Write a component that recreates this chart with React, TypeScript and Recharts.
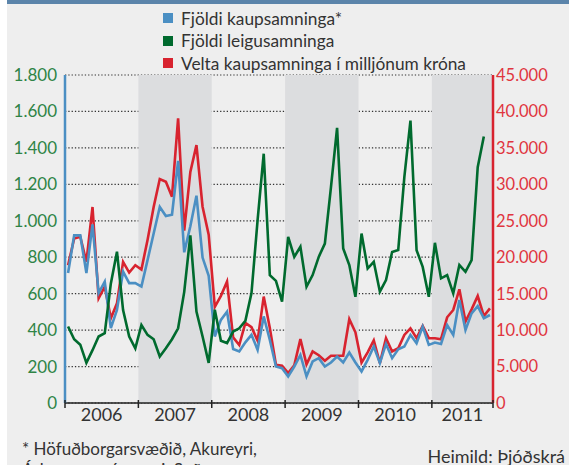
import { LineChart, Line, XAxis, YAxis, CartesianGrid, ReferenceArea } from 'recharts';

// monthly values, Jan 2006 - Oct 2011
const kaupsamningar = [
  713, 920, 920, 713, 980, 603, 666, 411, 511, 721, 658, 658,
  639, 784, 930, 1076, 1026, 1033, 1329, 827, 970, 1138, 798, 698,
  365, 456, 501, 296, 283, 333, 374, 292, 475, 346, 200, 191,
  146, 200, 264, 146, 228, 246, 200, 222, 255, 222, 277, 222,
  173, 237, 310, 219, 324, 246, 295, 310, 374, 328, 419, 319,
  332, 324, 428, 374, 565, 401, 492, 532, 465, 483,
];

const leigusamningar = [
  420, 350, 320, 220, 290, 365, 383, 656, 830, 510, 365, 300,
  428, 374, 350, 255, 300, 350, 410, 610, 920, 502, 365, 220,
  512, 342, 329, 392, 410, 451, 603, 1003, 1368, 702, 670, 556,
  911, 802, 857, 638, 702, 802, 875, 1185, 1510, 848, 757, 583,
  930, 738, 775, 611, 675, 829, 839, 1240, 1550, 839, 747, 583,
  879, 684, 702, 602, 757, 720, 784, 1294, 1462, null,
];

const velta = [
  18900, 22560, 22800, 19370, 26890, 14360, 15950, 11620, 13670, 19370, 17900, 18900,
  18320, 22370, 26900, 30730, 30360, 28300, 39040, 23640, 31700, 35380, 26930, 23100,
  13200, 14700, 16650, 9000, 7950, 11000, 10400, 8550, 14600, 10300, 5240, 5130,
  4100, 5180, 8760, 5300, 7070, 6550, 5800, 6480, 6480, 6480, 11500, 9700,
  5520, 6950, 8600, 5470, 8890, 7070, 7520, 9340, 10250, 8890, 10570, 8890,
  8890, 8750, 11760, 12760, 15590, 11170, 12850, 14680, 11940, 12990,
];

const years = ['2006', '2007', '2008', '2009', '2010', '2011'];
const yearBounds = [0, 12, 24, 36, 48, 60, 70];
const shadedYears = [[12, 24], [36, 48], [60, 70]];
const leftTicks = [0, 200, 400, 600, 800, 1000, 1200, 1400, 1600, 1800];
const rightTicks = [0, 5000, 10000, 15000, 20000, 25000, 30000, 35000, 40000, 45000];

const data = kaupsamningar.map((v, i) => ({
  m: i + 0.5,
  kaup: v,
  leiga: leigusamningar[i],
  velta: velta[i],
}));

const W = 579;
const H = 465;
const LEFT_W = 65;
const RIGHT_W = 86;
const PX_PER_MONTH = (W - LEFT_W - RIGHT_W) / 70;

const BLUE = '#4b8fc3';
const GREEN = '#006a2e';
const RED = '#d8232f';
const FONT = 'Lato, sans-serif';

const fmt = (v: number) => v.toLocaleString('de-DE');

function YearTick(props: any) {
  const { x, y, payload } = props;
  const k = yearBounds.indexOf(payload.value);
  const next = yearBounds[k + 1];
  const mid = next != null ? ((next - payload.value) / 2) * PX_PER_MONTH : 0;
  return (
    <g>
      <line x1={x} x2={x} y1={y - 3} y2={y + 5} stroke="#222" strokeWidth={1.5} />
      {next != null && (
        <text x={x + mid} y={y + 18} textAnchor="middle" fill="#333" fontSize={18} fontFamily={FONT}>
          {years[k]}
        </text>
      )}
    </g>
  );
}

const legendItems = [
  { color: BLUE, label: 'Fjöldi kaupsamninga*' },
  { color: GREEN, label: 'Fjöldi leigusamninga' },
  { color: RED, label: 'Velta kaupsamninga í milljónum króna' },
];

export default function App() {
  return (
    <div style={{ position: 'absolute', left: 0, top: 0, width: W, height: H, background: '#fff', overflow: 'hidden', fontFamily: FONT }}>
      <div style={{ position: 'absolute', left: 7, top: 0, width: 562, height: H, background: '#eeeeee' }} />
      <div style={{ position: 'absolute', left: 7, top: 0, width: 562, height: 4, background: '#5b84aa' }} />

      <div style={{ position: 'absolute', left: 163, top: 7 }}>
        {legendItems.map((it) => (
          <div key={it.label} style={{ display: 'flex', alignItems: 'center', height: 22.5, color: '#333', fontSize: 17.3, whiteSpace: 'nowrap' }}>
            <span style={{ width: 10, height: 10, background: it.color, marginRight: 8, display: 'inline-block' }} />
            {it.label}
          </div>
        ))}
      </div>

      <div style={{ position: 'absolute', left: 0, top: 0 }}>
        <LineChart width={W} height={H} data={data} margin={{ top: 75, right: 0, bottom: 32, left: 0 }}>
          {shadedYears.map(([a, b]) => (
            <ReferenceArea key={a} yAxisId="left" x1={a} x2={b} y1={0} y2={1800} fill="#dcdddf" fillOpacity={1} stroke="none" />
          ))}
          <CartesianGrid yAxisId="left" vertical={false} stroke="#333" strokeDasharray="1.3 2" strokeWidth={1.2} />
          <XAxis
            dataKey="m"
            type="number"
            domain={[0, 70]}
            ticks={yearBounds}
            interval={0}
            height={30}
            tickLine={false}
            tickSize={0}
            tickMargin={0}
            axisLine={{ stroke: '#222', strokeWidth: 1.5 }}
            tick={<YearTick />}
          />
          <YAxis
            yAxisId="left"
            domain={[0, 1800]}
            ticks={leftTicks}
            width={LEFT_W}
            tickFormatter={fmt}
            tickLine={false}
            tickSize={0}
            tickMargin={8}
            axisLine={{ stroke: BLUE, strokeWidth: 2.5 }}
            tick={{ fill: '#2f8446', fontSize: 17, fontFamily: FONT }}
          />
          <YAxis
            yAxisId="right"
            orientation="right"
            domain={[0, 45000]}
            ticks={rightTicks}
            width={RIGHT_W}
            tickFormatter={fmt}
            tickLine={false}
            tickSize={0}
            tickMargin={3}
            axisLine={{ stroke: RED, strokeWidth: 2.5 }}
            tick={{ fill: '#e0353e', fontSize: 16.5, fontFamily: FONT, textAnchor: 'start' }}
          />
          <Line yAxisId="right" dataKey="velta" stroke={RED} strokeWidth={2.6} dot={false} isAnimationActive={false} />
          <Line yAxisId="left" dataKey="kaup" stroke={BLUE} strokeWidth={2.6} dot={false} isAnimationActive={false} />
          <Line yAxisId="left" dataKey="leiga" stroke={GREEN} strokeWidth={2.6} dot={false} isAnimationActive={false} />
        </LineChart>
      </div>

      <div style={{ position: 'absolute', left: 22, top: 438, color: '#333', fontSize: 17, lineHeight: '21px', whiteSpace: 'nowrap' }}>
        * Höfuðborgarsvæðið, Akureyri,
        <br />
        Árborg og nágrenni, Suðurnes
      </div>
      <div style={{ position: 'absolute', right: 14, top: 445, color: '#333', fontSize: 18, whiteSpace: 'nowrap' }}>
        Heimild: Þjóðskrá
      </div>
    </div>
  );
}
